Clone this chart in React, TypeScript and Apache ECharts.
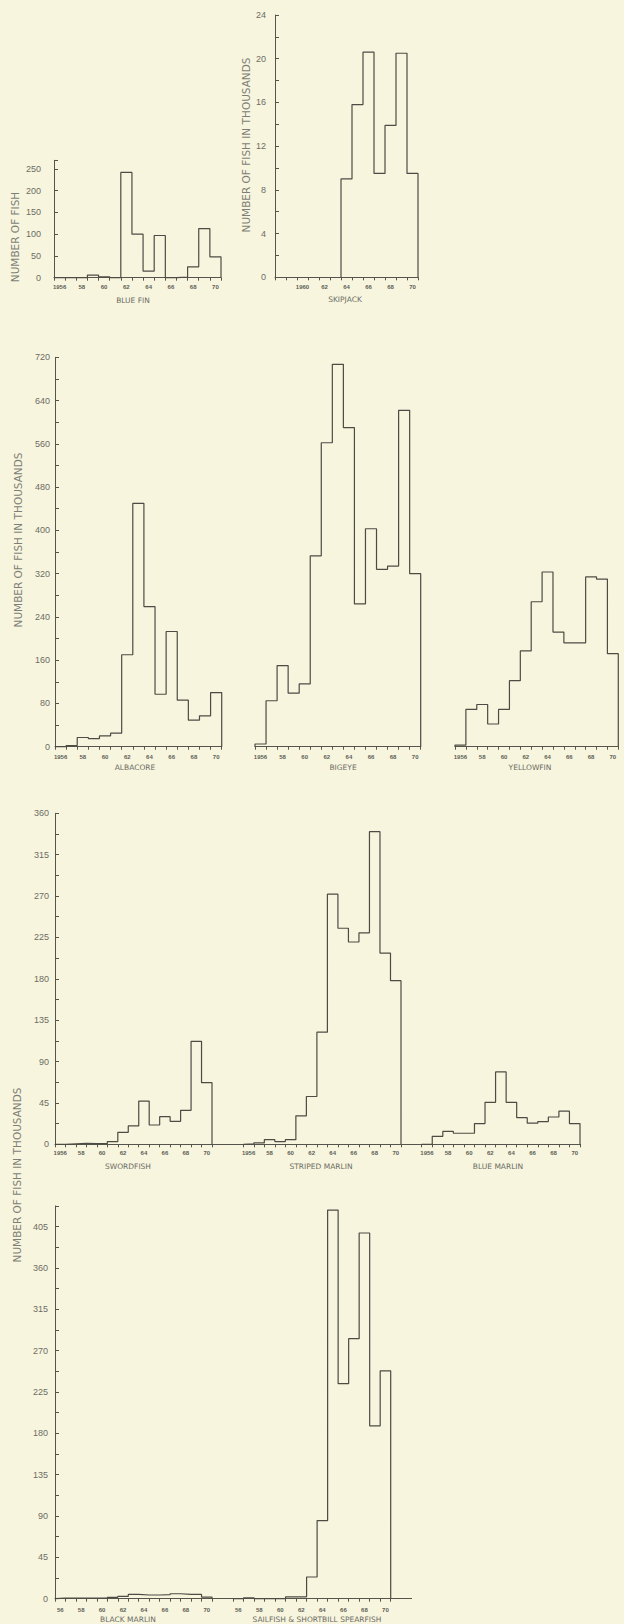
import React, { useEffect, useRef } from "react";
import * as echarts from "echarts";

// ---------- data ----------
const YEARS = [1956, 1957, 1958, 1959, 1960, 1961, 1962, 1963, 1964, 1965, 1966, 1967, 1968, 1969, 1970];
const SKIPJACK_AXIS_YEARS = [1958, 1959, 1960, 1961, 1962, 1963, 1964, 1965, 1966, 1967, 1968, 1969, 1970];
const SKIPJACK_YEARS = [1964, 1965, 1966, 1967, 1968, 1969, 1970];

const TICKS_1956 = ["1956", "", "58", "", "60", "", "62", "", "64", "", "66", "", "68", "", "70"];
const TICKS_56 = ["56", "", "58", "", "60", "", "62", "", "64", "", "66", "", "68", "", "70"];
const TICKS_SKIPJACK = ["", "", "1960", "", "62", "", "64", "", "66", "", "68", "", "70"];

// number of fish
const BLUEFIN = [0, 0, 0, 6, 2, 0, 242, 100, 15, 97, 0, 1.5, 25, 113, 48];
// thousands of fish
const SKIPJACK = [9, 15.8, 20.6, 9.5, 13.9, 20.5, 9.5];
const ALBACORE = [0, 2, 17, 15, 20, 25, 170, 450, 259, 97, 213, 86, 49, 57, 100];
const BIGEYE = [5, 85, 150, 99, 116, 353, 562, 707, 590, 264, 403, 328, 334, 622, 320];
const YELLOWFIN = [3, 69, 78, 42, 69, 122, 177, 268, 323, 212, 192, 192, 314, 310, 172];
const SWORDFISH = [0, 0.5, 1, 0.7, 0.7, 3, 13, 20, 47, 21, 30, 25, 37, 112, 67];
const STRIPED_MARLIN = [0.5, 1.5, 5, 3, 5, 31, 52, 122, 272, 235, 220, 230, 340, 208, 178];
const BLUE_MARLIN = [0, 8.7, 14, 12, 12, 22.5, 45.7, 78.7, 45.7, 29, 23, 24.7, 29.7, 36, 22.5];
const BLACK_MARLIN = [0.7, 0.7, 0.7, 0.7, 0.7, 1.5, 2.5, 4.7, 4, 4, 4.4, 5.4, 4.7, 4.7, 1.8];
const SAILFISH = [0, 1, 0, 0, 0, 2, 2, 23.6, 85, 423, 234, 283, 398, 188, 248];

// ---------- style ----------
const BG = "#f7f5de";
const LINE = "#55554d";
const TEXT = "#6c6c64";
const NARROW = '"Liberation Sans Narrow", "Liberation Sans", sans-serif';
const SANS = '"DejaVu Sans", sans-serif';

type Panel = {
  years: number[];
  values: number[];
  axisYears: number[];
  ticks: string[];
  box: [number, number, number, number];
  yMax: number;
  yStep: number;
  yLabelStep: number;
  showY: boolean;
  yMargin: number;
  xMargin: number;
};

const PANELS: Panel[] = [
  { years: YEARS, values: BLUEFIN, axisYears: YEARS, ticks: TICKS_1956, box: [54, 160.3, 167, 117.4], yMax: 270, yStep: 50, yLabelStep: 50, showY: true, yMargin: 13, xMargin: 6 },
  { years: SKIPJACK_YEARS, values: SKIPJACK, axisYears: SKIPJACK_AXIS_YEARS, ticks: TICKS_SKIPJACK, box: [275, 15, 143, 262.3], yMax: 24, yStep: 2, yLabelStep: 4, showY: true, yMargin: 9, xMargin: 7 },
  { years: YEARS, values: ALBACORE, axisYears: YEARS, ticks: TICKS_1956, box: [55, 357.3, 166.7, 389.4], yMax: 720, yStep: 40, yLabelStep: 80, showY: true, yMargin: 5, xMargin: 7 },
  { years: YEARS, values: BIGEYE, axisYears: YEARS, ticks: TICKS_1956, box: [255, 357.3, 165.7, 389.4], yMax: 720, yStep: 40, yLabelStep: 80, showY: false, yMargin: 5, xMargin: 7 },
  { years: YEARS, values: YELLOWFIN, axisYears: YEARS, ticks: TICKS_1956, box: [455, 357.3, 163.3, 389.4], yMax: 720, yStep: 40, yLabelStep: 80, showY: false, yMargin: 5, xMargin: 7 },
  { years: YEARS, values: SWORDFISH, axisYears: YEARS, ticks: TICKS_1956, box: [55, 813.3, 157, 331], yMax: 360, yStep: 22.5, yLabelStep: 45, showY: true, yMargin: 6, xMargin: 6 },
  { years: YEARS, values: STRIPED_MARLIN, axisYears: YEARS, ticks: TICKS_1956, box: [243.3, 813.3, 157.7, 331], yMax: 360, yStep: 22.5, yLabelStep: 45, showY: false, yMargin: 6, xMargin: 6 },
  { years: YEARS, values: BLUE_MARLIN, axisYears: YEARS, ticks: TICKS_1956, box: [421.7, 813.3, 158.3, 331], yMax: 360, yStep: 22.5, yLabelStep: 45, showY: false, yMargin: 6, xMargin: 6 },
  { years: YEARS, values: BLACK_MARLIN, axisYears: YEARS, ticks: TICKS_56, box: [55, 1205.9, 157, 392.8], yMax: 427.5, yStep: 22.5, yLabelStep: 45, showY: true, yMargin: 7, xMargin: 8 },
  { years: YEARS, values: SAILFISH, axisYears: YEARS, ticks: TICKS_56, box: [233, 1205.9, 157.7, 392.8], yMax: 427.5, yStep: 22.5, yLabelStep: 45, showY: false, yMargin: 7, xMargin: 8 },
];

const TITLES: [string, number, number][] = [
  ["BLUE FIN", 133, 300],
  ["SKIPJACK", 345, 299],
  ["ALBACORE", 135, 767],
  ["BIGEYE", 343, 767],
  ["YELLOWFIN", 530, 767],
  ["SWORDFISH", 128, 1166],
  ["STRIPED MARLIN", 321, 1166],
  ["BLUE MARLIN", 498, 1166],
  ["BLACK MARLIN", 128, 1619],
  ["SAILFISH & SHORTBILL SPEARFISH", 317, 1619],
];

const Y_NAMES: [string, number, number][] = [
  ["NUMBER OF FISH", 15, 237],
  ["NUMBER OF FISH IN THOUSANDS", 246, 145],
  ["NUMBER OF FISH IN THOUSANDS", 18, 540],
  ["NUMBER OF FISH IN THOUSANDS", 17, 1175],
];

function buildOption() {
  const grid: any[] = [];
  const xAxis: any[] = [];
  const yAxis: any[] = [];
  const series: any[] = [];

  PANELS.forEach((p, i) => {
    const [left, top, width, height] = p.box;
    grid.push({ left, top, width, height, containLabel: false, outerBoundsMode: "none" });
    const x0 = p.axisYears[0];
    const x1 = p.axisYears[p.axisYears.length - 1] + 1;
    xAxis.push({
      type: "value",
      gridIndex: i,
      position: "bottom",
      min: x0,
      max: x1,
      interval: 1,
      axisLine: { show: true, onZero: false, lineStyle: { color: LINE, width: 1 } },
      axisTick: { show: true, length: 3, inside: false, lineStyle: { color: LINE, width: 1 } },
      axisLabel: { show: false },
      splitLine: { show: false },
    });
    xAxis.push({
      type: "category",
      gridIndex: i,
      position: "bottom",
      data: p.axisYears.map(String),
      boundaryGap: true,
      axisLine: { show: false },
      axisTick: { show: false },
      splitLine: { show: false },
      axisLabel: {
        interval: 0,
        margin: p.xMargin,
        hideOverlap: false,
        formatter: (_v: string, idx: number) => p.ticks[idx],
        fontSize: 6,
        fontWeight: "bold",
        fontFamily: '"Liberation Sans", sans-serif',
        color: "#5e5e56",
      },
    });
    yAxis.push({
      type: "value",
      gridIndex: i,
      min: 0,
      max: p.yMax,
      interval: p.yStep,
      show: p.showY,
      axisLine: { show: true, onZero: false, lineStyle: { color: LINE, width: 1 } },
      axisTick: { show: true, inside: true, length: 4, lineStyle: { color: LINE, width: 1 } },
      axisLabel: {
        margin: p.yMargin,
        formatter: (v: number) => (Math.abs(v % p.yLabelStep) < 1e-6 ? String(v) : ""),
        fontSize: 9,
        fontFamily: NARROW,
        color: TEXT,
      },
      splitLine: { show: false },
    });
    const pts: number[][] = [[p.years[0], 0]];
    p.years.forEach((yr, k) => pts.push([yr, p.values[k]]));
    pts.push([p.years[p.years.length - 1] + 1, 0]);
    series.push({
      type: "line",
      xAxisIndex: 2 * i,
      yAxisIndex: i,
      step: "end",
      symbol: "none",
      showSymbol: false,
      silent: true,
      clip: false,
      lineStyle: { color: "#4c4c45", width: 1.2 },
      data: pts,
    });
  });

  const graphic: any[] = [];
  // continuous baselines of the lower panels
  graphic.push({ type: "line", silent: true, shape: { x1: 55, y1: 1144.5, x2: 581, y2: 1144.5 }, style: { stroke: LINE, lineWidth: 1 } });
  graphic.push({ type: "line", silent: true, shape: { x1: 55, y1: 1598.5, x2: 412, y2: 1598.5 }, style: { stroke: LINE, lineWidth: 1 } });

  TITLES.forEach(([t, x, y]) => {
    graphic.push({
      type: "text",
      x,
      y,
      silent: true,
      style: { text: t, fill: TEXT, font: `7.5px ${SANS}`, textAlign: "center", textVerticalAlign: "middle", align: "center", verticalAlign: "middle" },
    });
  });
  Y_NAMES.forEach(([t, x, y]) => {
    graphic.push({
      type: "text",
      x,
      y,
      rotation: Math.PI / 2,
      silent: true,
      style: { text: t, fill: "#7e7e76", font: `10.5px ${SANS}`, textAlign: "center", textVerticalAlign: "middle", align: "center", verticalAlign: "middle" },
    });
  });

  return {
    animation: false,
    backgroundColor: BG,
    grid,
    xAxis,
    yAxis,
    series,
    graphic,
  };
}

export default function App() {
  const ref = useRef<HTMLDivElement>(null);
  useEffect(() => {
    if (!ref.current) return;
    const chart = echarts.init(ref.current, null, { renderer: "svg", width: 624, height: 1624 });
    chart.setOption(buildOption() as any);
    return () => chart.dispose();
  }, []);
  return (
    <div
      ref={ref}
      style={{ position: "absolute", left: 0, top: 0, width: 624, height: 1624, background: BG }}
    />
  );
}
